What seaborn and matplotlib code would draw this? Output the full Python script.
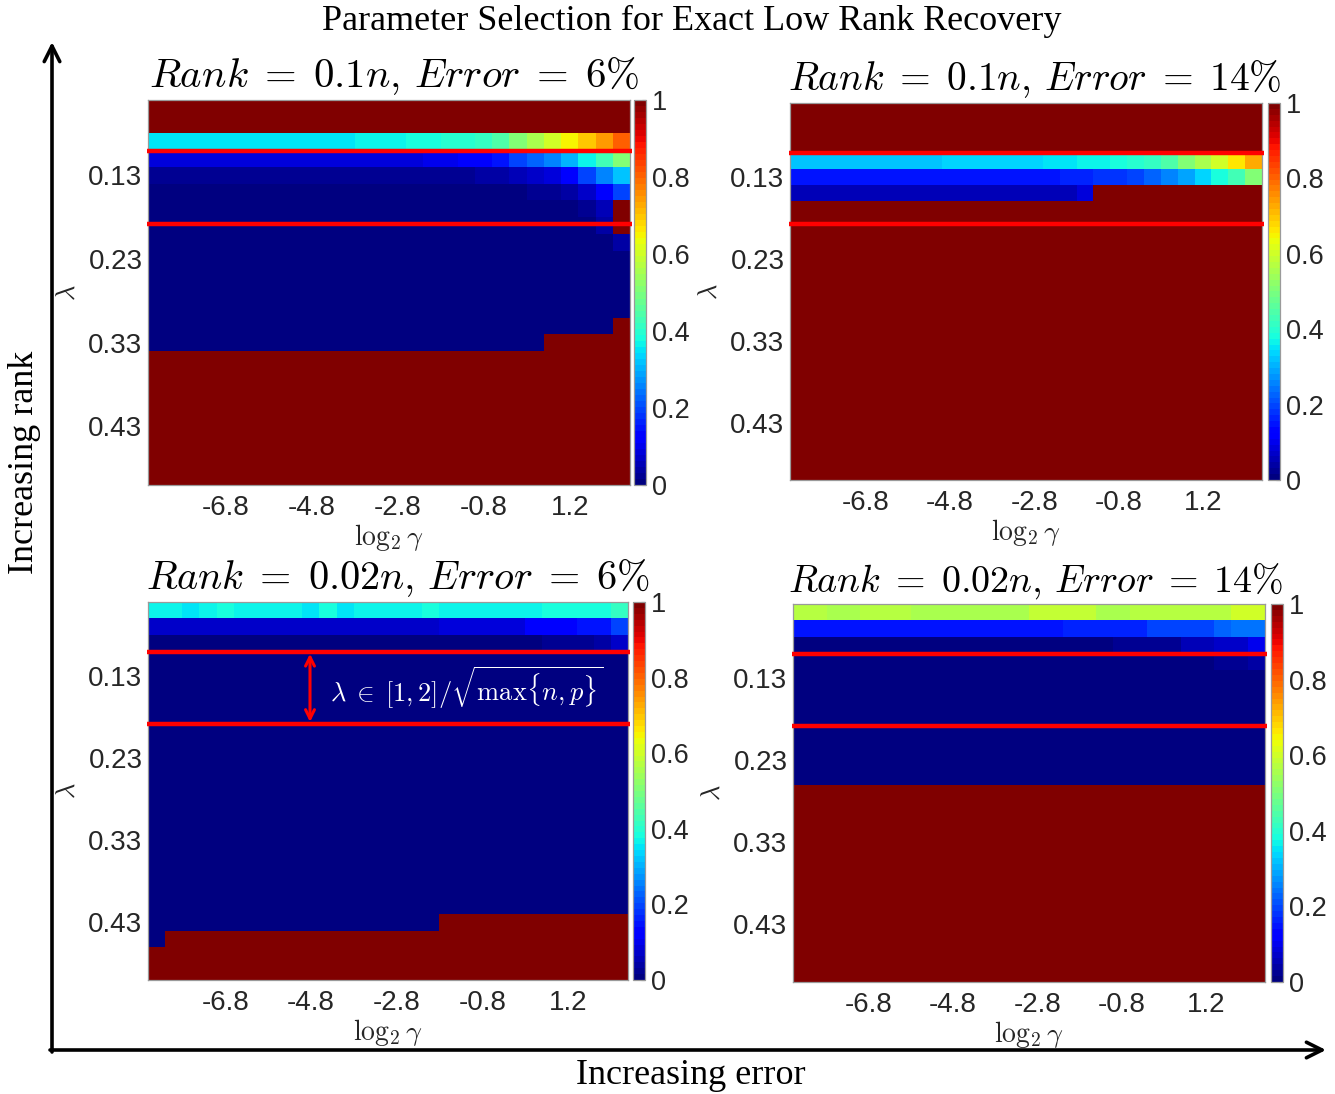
import numpy as np
import pandas as pd
import matplotlib
matplotlib.use("Agg")
import matplotlib.pyplot as plt
import seaborn as sns

# ---------------- data ----------------
gamma_log2 = [-8.4, -8.0, -7.6, -7.2, -6.8, -6.4, -6.0, -5.6, -5.2, -4.8, -4.4, -4.0, -3.6, -3.2,
              -2.8, -2.4, -2.0, -1.6, -1.2, -0.8, -0.4, 0.0, 0.4, 0.8, 1.2, 1.6, 2.0, 2.4]
lambdas = [0.05, 0.07, 0.09, 0.11, 0.13, 0.15, 0.17, 0.19, 0.21, 0.23, 0.25, 0.27, 0.29, 0.31,
           0.33, 0.35, 0.37, 0.39, 0.41, 0.43, 0.45, 0.47, 0.49]
x_tick_values = [-6.8, -4.8, -2.8, -0.8, 1.2]
x_tick_labels = ["-6.8", "-4.8", "-2.8", "-0.8", "1.2"]
y_tick_values = [0.13, 0.23, 0.33, 0.43]
y_tick_labels = ["0.13", "0.23", "0.33", "0.43"]
cbar_ticks = [0, 0.2, 0.4, 0.6, 0.8, 1]
cbar_labels = ["0", "0.2", "0.4", "0.6", "0.8", "1"]
red_line_lambdas = [0.101, 0.188]

panel_titles = [r"$Rank\;=\;0.1n,\,Error\;=\;6\%$", r"$Rank\;=\;0.1n,\,Error\;=\;14\%$",
                r"$Rank\;=\;0.02n,\,Error\;=\;6\%$", r"$Rank\;=\;0.02n,\,Error\;=\;14\%$"]

# each row: run-length list of (value, number of columns), rows ordered by lambda
panel_a_rows = [
    [(1.0, 28)],
    [(1.0, 28)],
    [(0.355, 12), (0.365, 3), (0.38, 2), (0.395, 1), (0.405, 1), (0.42, 1), (0.45, 1), (0.50, 1),
     (0.555, 1), (0.60, 1), (0.645, 1), (0.70, 1), (0.74, 1), (0.80, 1)],
    [(0.08, 16), (0.095, 2), (0.12, 2), (0.15, 1), (0.19, 1), (0.22, 1), (0.25, 1), (0.30, 1),
     (0.37, 1), (0.43, 1), (0.50, 1)],
    [(0.025, 19), (0.04, 2), (0.055, 1), (0.07, 1), (0.085, 1), (0.115, 1), (0.19, 1), (0.25, 1), (0.325, 1)],
    [(0.015, 22), (0.028, 2), (0.04, 1), (0.075, 1), (0.115, 1), (0.20, 1)],
    [(0.015, 25), (0.028, 1), (0.06, 1), (1.0, 1)],
    [(0.015, 26), (0.04, 1), (1.0, 1)],
    [(0.015, 27), (0.04, 1)],
    [(0.015, 28)],
    [(0.015, 28)],
    [(0.015, 28)],
    [(0.015, 28)],
    [(0.015, 27), (1.0, 1)],
    [(0.015, 23), (1.0, 5)],
    [(1.0, 28)], [(1.0, 28)], [(1.0, 28)], [(1.0, 28)],
    [(1.0, 28)], [(1.0, 28)], [(1.0, 28)], [(1.0, 28)],
]

panel_b_rows = [
    [(1.0, 28)],
    [(1.0, 28)],
    [(1.0, 28)],
    [(0.315, 9), (0.33, 6), (0.35, 2), (0.365, 2), (0.38, 1), (0.395, 1), (0.415, 1), (0.45, 1),
     (0.50, 1), (0.55, 1), (0.60, 1), (0.66, 1), (0.72, 1)],
    [(0.145, 16), (0.16, 2), (0.175, 2), (0.195, 1), (0.225, 1), (0.255, 1), (0.285, 1), (0.33, 1),
     (0.375, 1), (0.43, 1), (0.50, 1)],
    [(0.06, 17), (0.08, 1), (1.0, 10)],
    [(1.0, 28)], [(1.0, 28)], [(1.0, 28)], [(1.0, 28)], [(1.0, 28)], [(1.0, 28)],
    [(1.0, 28)], [(1.0, 28)], [(1.0, 28)], [(1.0, 28)], [(1.0, 28)], [(1.0, 28)],
    [(1.0, 28)], [(1.0, 28)], [(1.0, 28)], [(1.0, 28)], [(1.0, 28)],
]

panel_c_rows = [
    [(0.36, 2), (0.345, 1), (0.36, 1), (0.38, 1), (0.36, 4), (0.345, 1), (0.385, 1), (0.345, 1),
     (0.36, 4), (0.385, 1), (0.36, 6), (0.385, 2), (0.375, 1), (0.385, 1), (0.42, 1)],
    [(0.07, 17), (0.08, 5), (0.12, 2), (0.115, 1), (0.155, 2), (0.19, 1)],
    [(0.015, 23), (0.03, 3), (0.045, 1), (0.065, 1)],
    [(0.015, 28)], [(0.015, 28)], [(0.015, 28)], [(0.015, 28)], [(0.015, 28)], [(0.015, 28)],
    [(0.015, 28)], [(0.015, 28)], [(0.015, 28)], [(0.015, 28)], [(0.015, 28)], [(0.015, 28)],
    [(0.015, 28)], [(0.015, 28)], [(0.015, 28)], [(0.015, 28)],
    [(0.015, 17), (1.0, 11)],
    [(0.015, 1), (1.0, 27)],
    [(1.0, 28)],
    [(1.0, 28)],
]

panel_d_rows = [
    [(0.57, 2), (0.555, 2), (0.57, 3), (0.555, 7), (0.585, 4), (0.555, 2), (0.57, 6), (0.60, 2)],
    [(0.155, 16), (0.17, 5), (0.19, 3), (0.20, 1), (0.22, 1), (0.235, 2)],
    [(0.015, 19), (0.03, 4), (0.05, 2), (0.066, 1), (0.076, 1), (0.10, 1)],
    [(0.015, 25), (0.03, 2), (0.045, 1)],
    [(0.015, 28)], [(0.015, 28)], [(0.015, 28)], [(0.015, 28)], [(0.015, 28)], [(0.015, 28)],
    [(0.015, 28)],
    [(1.0, 28)], [(1.0, 28)], [(1.0, 28)], [(1.0, 28)], [(1.0, 28)], [(1.0, 28)],
    [(1.0, 28)], [(1.0, 28)], [(1.0, 28)], [(1.0, 28)], [(1.0, 28)], [(1.0, 28)],
]

# ---------------- style ----------------
sns.set_theme(style="white")
plt.rcParams["font.family"] = ["Liberation Sans", "DejaVu Sans"]
plt.rcParams["mathtext.fontset"] = "cm"

W, H = 1335, 1094
fig = plt.figure(figsize=(W / 100, H / 100), dpi=100)
jet64 = matplotlib.colormaps["jet"].resampled(64)


def expand(runs):
    row = []
    for v, n in runs:
        row.extend([v] * n)
    return row


def px_rect(x0, y0, x1, y1):
    return [x0 / W, 1 - y1 / H, (x1 - x0) / W, (y1 - y0) / H]


lam_idx = np.arange(len(lambdas)) + 0.5
gam_idx = np.arange(len(gamma_log2)) + 0.5


def add_panel(rect, cbar_rect, rows, title, title_size, title_x, annotate=False):
    ax = fig.add_axes(px_rect(*rect))
    cax = fig.add_axes(px_rect(*cbar_rect))
    mat = np.array([expand(r) for r in rows])
    df = pd.DataFrame(mat, index=lambdas, columns=gamma_log2)
    sns.heatmap(df, ax=ax, cbar_ax=cax, cmap=jet64, vmin=0, vmax=1,
                xticklabels=False, yticklabels=False)
    xt = np.interp(x_tick_values, gamma_log2, gam_idx)
    yt = np.interp(y_tick_values, lambdas, lam_idx)
    ax.set_xticks(xt)
    ax.set_xticklabels(x_tick_labels)
    ax.set_yticks(yt)
    ax.set_yticklabels(y_tick_labels, rotation=0)
    ax.tick_params(axis="x", pad=7)
    ax.tick_params(axis="y", pad=4)
    ax.tick_params(direction="in", length=5, width=0.8, color="#555555",
                   top=True, right=True, bottom=True, left=True,
                   labelsize=20, labelcolor="#262626")
    for s in ax.spines.values():
        s.set_visible(True)
        s.set_color("#9a9a9a")
        s.set_linewidth(0.9)
    ax.set_xlabel(r"$\log_2\gamma$", fontsize=20, color="#262626", labelpad=1)
    ax.set_ylabel(r"$\lambda$", fontsize=19, color="#262626", labelpad=6)
    ax.set_title(title, fontsize=title_size, pad=9, color="black", x=title_x)

    ylines = np.interp(red_line_lambdas, lambdas, lam_idx)
    for yl in ylines:
        ax.plot([-0.08, len(gamma_log2) + 0.1], [yl, yl], color="#ff0000", lw=3.2,
                clip_on=False, solid_capstyle="butt", zorder=5)
    if annotate:
        ax.annotate("", xy=(9.45, ylines[0] + 0.1), xytext=(9.45, ylines[1] - 0.1),
                    arrowprops=dict(arrowstyle="<->", color="#ff0000", lw=2.2,
                                    shrinkA=0, shrinkB=0, mutation_scale=16), zorder=6)
        ax.text(10.6, ylines.mean(), r"$\lambda\;\in\;[1,2]/\sqrt{\max\{n,p\}}$",
                color="white", fontsize=19, va="center", ha="left", zorder=6)

    cbar = ax.collections[0].colorbar
    cbar.outline.set_visible(True)
    cbar.outline.set_edgecolor("#9a9a9a")
    cbar.outline.set_linewidth(0.9)
    cbar.set_ticks(cbar_ticks)
    cbar.set_ticklabels(cbar_labels)
    cax.tick_params(direction="in", length=3, width=0.8, color="#555555",
                    labelsize=19.5, labelcolor="#262626", pad=4)
    return ax


add_panel((148, 100, 630, 485), (634, 100, 646, 485), panel_a_rows, panel_titles[0], 29.4, 0.511)
add_panel((790, 103, 1262, 480), (1268, 103, 1280, 480), panel_b_rows, panel_titles[1], 28.4, 0.519)
add_panel((148, 602, 628, 980), (633, 602, 645, 980), panel_c_rows, panel_titles[2], 29.0, 0.52,
          annotate=True)
add_panel((793, 604, 1265, 982), (1271, 604, 1283, 982), panel_d_rows, panel_titles[3], 27.4, 0.513)

# ---------------- global overlay ----------------
oax = fig.add_axes([0, 0, 1, 1], zorder=10)
oax.set_xlim(0, W)
oax.set_ylim(H, 0)
oax.axis("off")
oax.patch.set_alpha(0)
oax.annotate("", xy=(52, 42), xytext=(52, 1052),
             arrowprops=dict(arrowstyle="->", lw=2.6, color="black",
                             shrinkA=0, shrinkB=0, mutation_scale=28))
oax.annotate("", xy=(1326, 1050), xytext=(50, 1050),
             arrowprops=dict(arrowstyle="->", lw=2.6, color="black",
                             shrinkA=0, shrinkB=0, mutation_scale=28))
serif = ["Liberation Serif", "DejaVu Serif"]
oax.text(692, 21, "Parameter Selection for Exact Low Rank Recovery", family=serif,
         fontsize=26, ha="center", va="center", color="black")
oax.text(25, 462, "Increasing rank", family=serif, fontsize=26, rotation=90,
         ha="center", va="center", color="black")
oax.text(691, 1075, "Increasing error", family=serif, fontsize=26,
         ha="center", va="center", color="black")

fig.savefig("out.png", dpi=100)
